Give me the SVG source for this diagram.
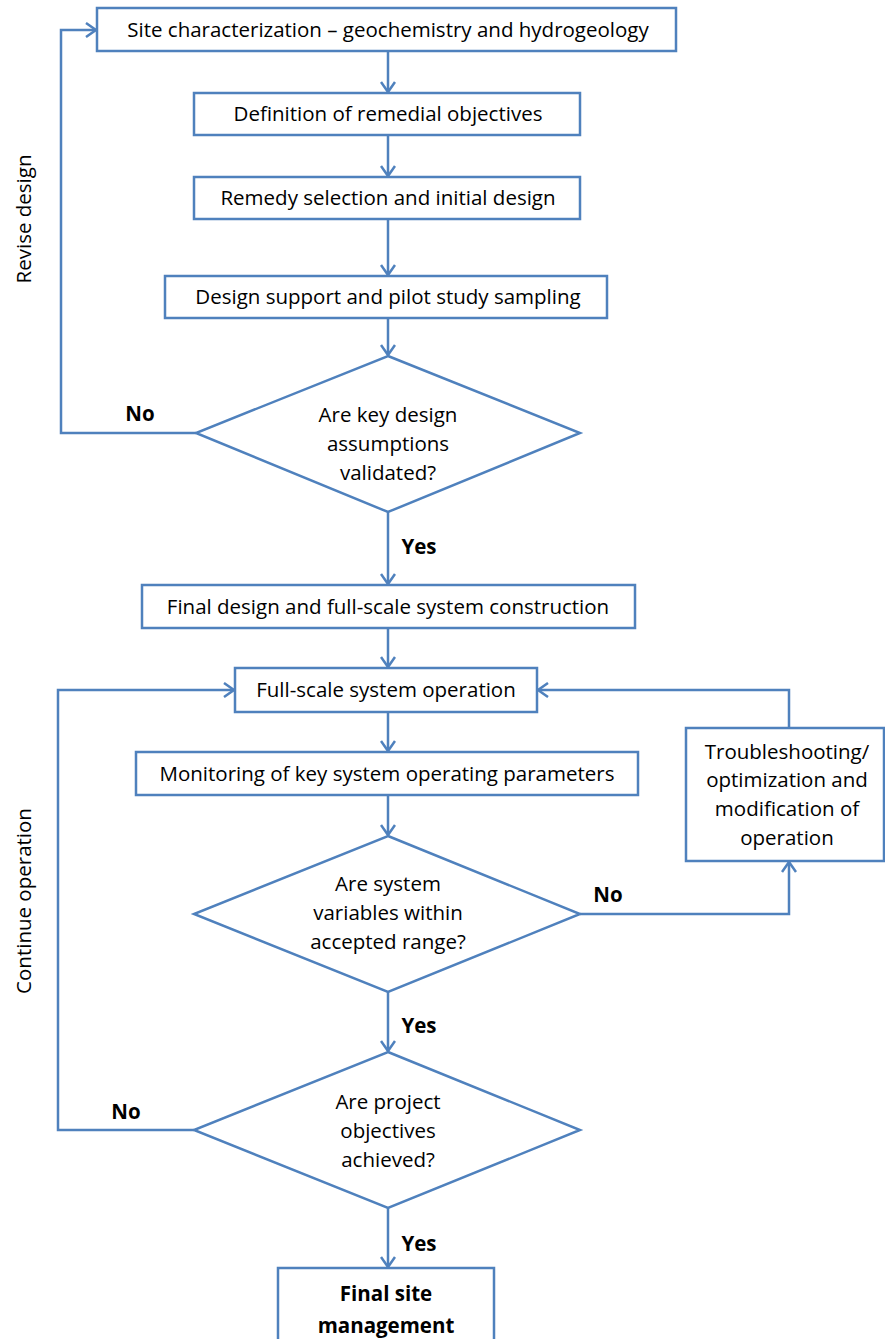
<svg xmlns="http://www.w3.org/2000/svg" width="885" height="1339" viewBox="0 0 885 1339">
<style>
.box{fill:#fff;stroke:#4F81BD;stroke-width:2.5}
.ln{fill:none;stroke:#4F81BD;stroke-width:2.5}
text{font-family:"Open Sans","Liberation Sans",sans-serif;font-size:20.5px;fill:#000;text-anchor:middle}
.b{font-weight:bold}
</style>
<defs>
<marker id="ah" markerUnits="userSpaceOnUse" markerWidth="16" markerHeight="16" refX="13" refY="8" orient="auto">
<path d="M3,1 L13,8 L3,15" fill="none" stroke="#4F81BD" stroke-width="2.5"/>
</marker>
</defs>
<rect width="885" height="1339" fill="#fff"/>
<g id="connectors">
<path class="ln" marker-end="url(#ah)" d="M388,51 V92"/>
<path class="ln" marker-end="url(#ah)" d="M388,135 V176"/>
<path class="ln" marker-end="url(#ah)" d="M388,219 V275"/>
<path class="ln" marker-end="url(#ah)" d="M388,318 V355"/>
<path class="ln" marker-end="url(#ah)" d="M388,512 V584"/>
<path class="ln" marker-end="url(#ah)" d="M388,628 V667"/>
<path class="ln" marker-end="url(#ah)" d="M388,712 V751"/>
<path class="ln" marker-end="url(#ah)" d="M388,795 V835"/>
<path class="ln" marker-end="url(#ah)" d="M388,992 V1051"/>
<path class="ln" marker-end="url(#ah)" d="M388,1208 V1267"/>
<path class="ln" marker-end="url(#ah)" d="M196,433 H61 V30 H96"/>
<path class="ln" marker-end="url(#ah)" d="M580,914 H789 V862"/>
<path class="ln" marker-end="url(#ah)" d="M789,728 V690 H538"/>
<path class="ln" marker-end="url(#ah)" d="M194,1130 H58 V690 H234"/>
<text class="b" x="140" y="421">No</text>
<text class="b" x="419" y="554">Yes</text>
<text class="b" x="608" y="902">No</text>
<text class="b" x="419" y="1033">Yes</text>
<text class="b" x="126" y="1119">No</text>
<text class="b" x="419" y="1251">Yes</text>
<text transform="translate(31,219) rotate(-90)">Revise design</text>
<text transform="translate(31,901) rotate(-90)">Continue operation</text>
</g>
<g id="n1"><rect class="box" x="97" y="8" width="579" height="43"/><text x="388" y="37">Site characterization – geochemistry and hydrogeology</text></g>
<g id="n2"><rect class="box" x="194" y="93" width="386" height="42"/><text x="388" y="121">Definition of remedial objectives</text></g>
<g id="n3"><rect class="box" x="194" y="177" width="386" height="42"/><text x="388" y="205">Remedy selection and initial design</text></g>
<g id="n4"><rect class="box" x="165" y="276" width="442" height="42"/><text x="388" y="304">Design support and pilot study sampling</text></g>
<g id="d1"><polygon class="box" points="388,356 580,433 388,512 196,433"/><text x="388" y="422">Are key design</text><text x="388" y="451">assumptions</text><text x="388" y="480">validated?</text></g>
<g id="n5"><rect class="box" x="142" y="585" width="493" height="43"/><text x="388" y="614">Final design and full-scale system construction</text></g>
<g id="n6"><rect class="box" x="235" y="668" width="302" height="44"/><text x="386" y="697">Full-scale system operation</text></g>
<g id="n7"><rect class="box" x="136" y="752" width="502" height="43"/><text x="387" y="781">Monitoring of key system operating parameters</text></g>
<g id="n8"><rect class="box" x="686" y="728" width="198" height="133"/><text x="787" y="759">Troubleshooting/</text><text x="787" y="787">optimization and</text><text x="787" y="816">modification of</text><text x="787" y="845">operation</text></g>
<g id="d2"><polygon class="box" points="388,836 580,914 388,992 194,914"/><text x="388" y="891">Are system</text><text x="388" y="920">variables within</text><text x="388" y="949">accepted range?</text></g>
<g id="d3"><polygon class="box" points="388,1052 580,1130 388,1208 194,1130"/><text x="388" y="1109">Are project</text><text x="388" y="1138">objectives</text><text x="388" y="1167">achieved?</text></g>
<g id="n9"><rect class="box" x="278" y="1268" width="216" height="80"/><text class="b" x="386" y="1301">Final site</text><text class="b" x="386" y="1333">management</text></g>
</svg>
